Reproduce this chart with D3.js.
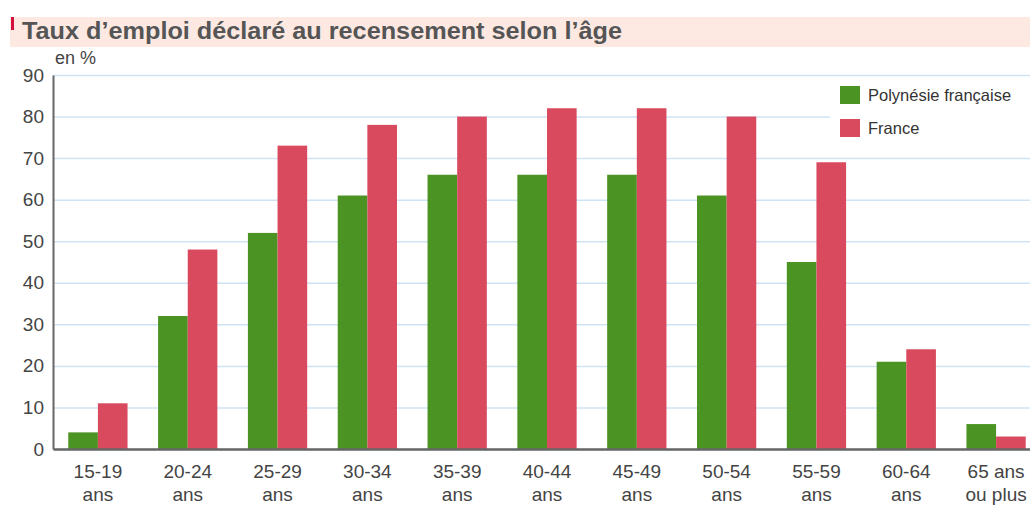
<!DOCTYPE html>
<html>
<head>
<meta charset="utf-8">
<script src="https://cdn.jsdelivr.net/npm/d3@7"></script>
<style>
  body { margin: 0; background: #fff; }
  svg text { font-family: "Liberation Sans", Arial, sans-serif; }
</style>
</head>
<body>
<div id="chart"></div>
<script>
const WIDTH  = 1030;
const HEIGHT = 507;
const MARGIN = { top: 75, right: -11, bottom: 58, left: 53 };
const INNER_WIDTH  = WIDTH - MARGIN.left - MARGIN.right;
const INNER_HEIGHT = HEIGHT - MARGIN.top - MARGIN.bottom;

const categories = ['15-19|ans', '20-24|ans', '25-29|ans', '30-34|ans', '35-39|ans', '40-44|ans',
                    '45-49|ans', '50-54|ans', '55-59|ans', '60-64|ans', '65 ans|ou plus'];
const series     = ['Polynésie française', 'France'];
const polynesie  = [4, 32, 52, 61, 66, 66, 66, 61, 45, 21, 6];
const france     = [11, 48, 73, 78, 80, 82, 82, 80, 69, 24, 3];
const yTicks     = [0, 10, 20, 30, 40, 50, 60, 70, 80, 90];
const colors     = ['#4b9322', '#d94a5e'];

const svgRoot = d3.select('#chart').append('svg')
  .attr('width', WIDTH)
  .attr('height', HEIGHT);

// title band
svgRoot.append('rect')
  .attr('x', 10).attr('y', 17).attr('width', WIDTH - 10).attr('height', 30)
  .attr('fill', '#fde9e2');
svgRoot.append('rect')
  .attr('x', 11).attr('y', 17).attr('width', 3).attr('height', 13)
  .attr('fill', '#d4113c');
svgRoot.append('text')
  .attr('x', 22).attr('y', 39)
  .attr('textLength', 600)
  .attr('lengthAdjust', 'spacingAndGlyphs')
  .style('font-weight', 'bold')
  .style('font-size', '24px')
  .attr('fill', '#555')
  .text('Taux d\u2019emploi déclaré au recensement selon l\u2019âge');

const svg = svgRoot.append('g')
  .attr('transform', 'translate(' + MARGIN.left + ',' + MARGIN.top + ')');

const x  = d3.scaleBand().domain(categories).range([0, INNER_WIDTH]).paddingInner(0.34).paddingOuter(0.17);
const xs = d3.scaleBand().domain(series).range([0, x.bandwidth()]);
const y  = d3.scaleLinear().domain([0, 90]).range([INNER_HEIGHT, 0]);

// grid
svg.append('g')
  .attr('class', 'y axis-grid')
  .call(d3.axisLeft(y).tickValues(yTicks).tickSize(-(WIDTH - MARGIN.left)).tickFormat(''))
  .call(g => g.select('.domain').remove())
  .call(g => g.selectAll('line').attr('stroke', '#cfe3f4').attr('stroke-width', 1.5));

// legend box (covers grid)
const legend = svg.append('g').attr('transform', 'translate(777,5)');
legend.append('rect').attr('x', 0).attr('y', 0).attr('width', 200).attr('height', 70).attr('fill', '#fff');
series.forEach((s, i) => {
  legend.append('rect')
    .attr('x', 10).attr('y', 6 + i * 33).attr('width', 20).attr('height', 18)
    .attr('fill', colors[i]);
  legend.append('text')
    .attr('x', 38).attr('y', 21 + i * 33)
    .style('font-size', '16.5px')
    .attr('fill', '#333')
    .text(s);
});

// bars
const groups = svg.selectAll('.grp')
  .data(categories)
  .join('g')
    .attr('class', 'grp')
    .attr('transform', d => 'translate(' + x(d) + ',0)');

groups.selectAll('rect')
  .data((d, i) => [polynesie[i], france[i]].map((v, j) => ({ s: series[j], v: v, c: colors[j] })))
  .join('rect')
    .attr('x', d => xs(d.s))
    .attr('y', d => y(d.v))
    .attr('width', xs.bandwidth())
    .attr('height', d => INNER_HEIGHT - y(d.v))
    .attr('fill', d => d.c);

// y axis
svg.append('g')
  .attr('class', 'y axis')
  .call(d3.axisLeft(y).tickValues(yTicks).tickSize(0).tickPadding(9))
  .call(g => g.select('.domain').attr('stroke', '#666').attr('stroke-width', 2))
  .call(g => g.selectAll('text').style('font-size', '19px').attr('fill', '#444'));

// x axis
const xAxis = svg.append('g')
  .attr('class', 'x axis')
  .attr('transform', 'translate(0,' + INNER_HEIGHT + ')')
  .call(d3.axisBottom(x).tickSize(0).tickFormat(''));
xAxis.select('.domain').attr('stroke', '#666').attr('stroke-width', 2.5);
xAxis.selectAll('.tick').each(function(d) {
  const parts = d.split('|');
  const t = d3.select(this).append('text')
    .attr('text-anchor', 'middle')
    .style('font-size', '19px')
    .attr('fill', '#444');
  parts.forEach((p, i) => {
    t.append('tspan').attr('x', 0).attr('y', 29 + i * 23).text(p);
  });
});

// "en %" label
svg.append('text')
  .attr('x', 2).attr('y', -11)
  .style('font-size', '18px')
  .attr('fill', '#444')
  .text('en %');
</script>
</body>
</html>
